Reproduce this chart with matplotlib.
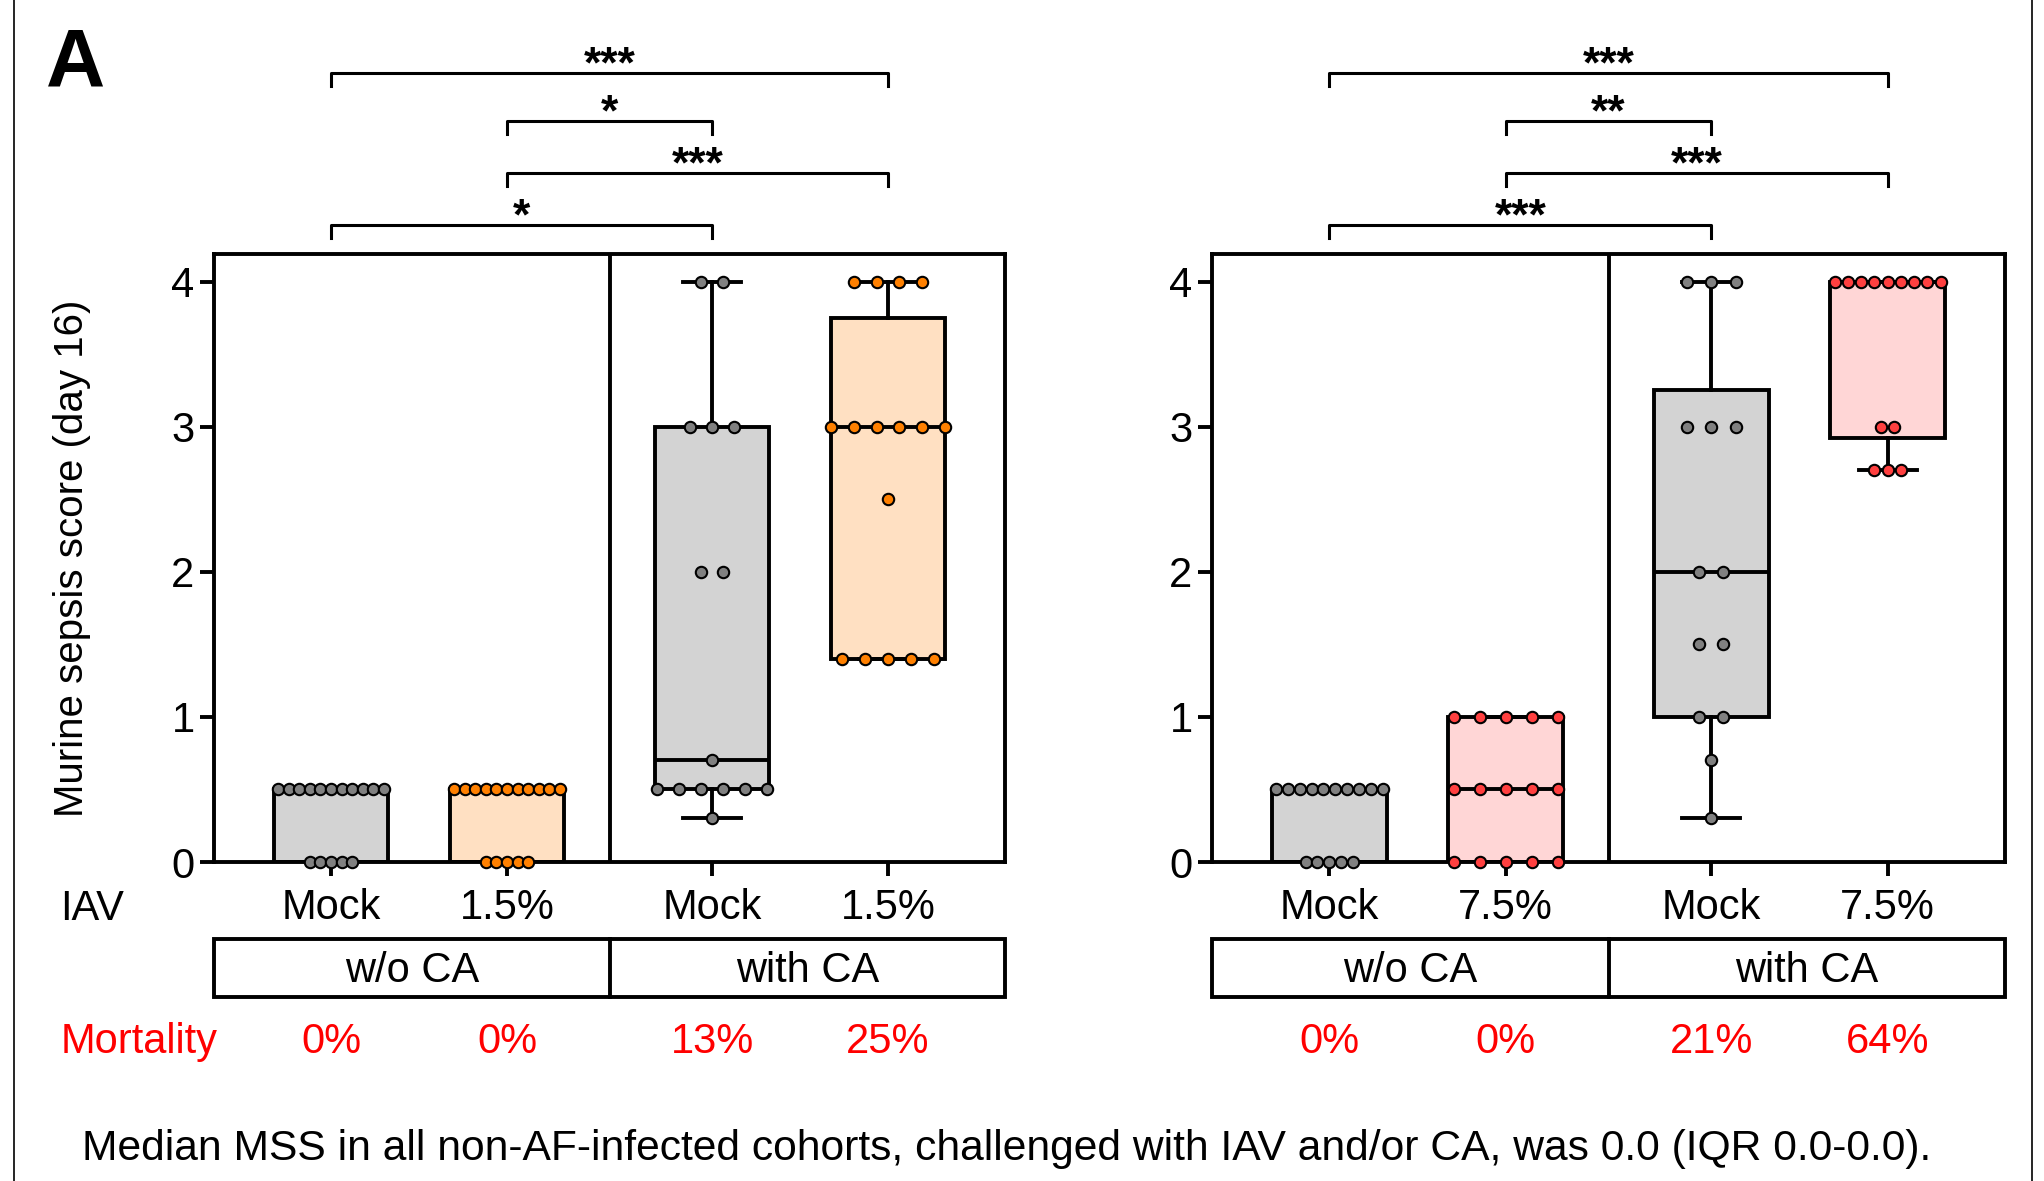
import matplotlib
matplotlib.use("Agg")
import matplotlib.pyplot as plt
import matplotlib.transforms as mtransforms
from matplotlib.lines import Line2D
from matplotlib.patches import Rectangle
import numpy as np

plt.rcParams['font.family'] = ['Liberation Sans', 'DejaVu Sans']

# ---- data ----
left_labels = ['Mock', '1.5%', 'Mock', '1.5%']
right_labels = ['Mock', '7.5%', 'Mock', '7.5%']
ca_groups = ['w/o CA', 'with CA']
left_mortality = ['0%', '0%', '13%', '25%']
right_mortality = ['0%', '0%', '21%', '64%']

# sepsis scores (day 16), one list per cohort
left_mock_noca = [0.5, 0.5, 0.5, 0.5, 0.5, 0.5, 0.5, 0.5, 0.5, 0.5, 0.5, 0, 0, 0, 0, 0]
left_iav_noca = [0.5, 0.5, 0.5, 0.5, 0.5, 0.5, 0.5, 0.5, 0.5, 0.5, 0.5, 0, 0, 0, 0, 0]
left_mock_ca = [4, 4, 3, 3, 3, 2, 2, 0.7, 0.5, 0.5, 0.5, 0.5, 0.5, 0.5, 0.3]
left_iav_ca = [4, 4, 4, 4, 3, 3, 3, 3, 3, 3, 2.5, 1.4, 1.4, 1.4, 1.4, 1.4]

right_mock_noca = [0.5, 0.5, 0.5, 0.5, 0.5, 0.5, 0.5, 0.5, 0.5, 0.5, 0, 0, 0, 0, 0]
right_iav_noca = [1, 1, 1, 1, 1, 0.5, 0.5, 0.5, 0.5, 0.5, 0, 0, 0, 0, 0]
right_mock_ca = [4, 4, 4, 3, 3, 3, 2, 2, 1.5, 1.5, 1, 1, 0.7, 0.3]
right_iav_ca = [4, 4, 4, 4, 4, 4, 4, 4, 4, 3, 3, 2.7, 2.7, 2.7]

# significance: (group i, group j, label), top to bottom
left_sig = [(0, 3, '***'), (1, 2, '*'), (1, 3, '***'), (0, 2, '*')]
right_sig = [(0, 3, '***'), (1, 2, '**'), (1, 3, '***'), (0, 2, '***')]

caption = ('Median MSS in all non-AF-infected cohorts, challenged with IAV '
           'and/or CA, was 0.0 (IQR 0.0-0.0).')

# ---- layout ----
W, H, DPI = 2044, 1181, 100
positions = [0, 1, 2.165, 3.165]
divider_x = 1.585
sig_levels = [5.44, 5.108, 4.747, 4.388]

GREY_DOT, GREY_BOX = '#808080', '#D3D3D3'
ORANGE_DOT, ORANGE_BOX = '#FF8000', '#FFE0C2'
RED_DOT, RED_BOX = '#FF4040', '#FFD6D6'
LW = 2.8


def fy(py):
    return 1 - py / H


def draw_panel(ax, scores, labels, mortality, spacings, dot_colors, box_colors, sig):
    stats = []
    for vals in scores:
        q1, med, q3 = np.percentile(vals, [25, 50, 75], method='weibull')
        stats.append(dict(q1=q1, med=med, q3=q3, whislo=min(vals), whishi=max(vals), fliers=[]))
    bp = ax.bxp(stats, positions=positions, widths=0.65, patch_artist=True,
                showfliers=False, manage_ticks=False, capwidths=0.33,
                boxprops=dict(linewidth=LW, edgecolor='black'),
                whiskerprops=dict(linewidth=LW, color='black'),
                capprops=dict(linewidth=LW, color='black'),
                medianprops=dict(linewidth=LW, color='black'))
    for patch, c in zip(bp['boxes'], box_colors):
        patch.set_facecolor(c)

    # dots spread horizontally per value
    for pos, vals, sp, c in zip(positions, scores, spacings, dot_colors):
        uniq, counts = np.unique(vals, return_counts=True)
        for v, n in zip(uniq, counts):
            xs = pos + (np.arange(n) - (n - 1) / 2) * sp
            ax.plot(xs, [v] * n, 'o', ms=8.2, mfc=c, mec='black', mew=1.5,
                    clip_on=False, zorder=5)

    ax.axvline(divider_x, color='black', lw=LW)
    ax.set_xlim(-0.665, 3.83)
    ax.set_ylim(0, 4.19)
    ax.set_yticks([0, 1, 2, 3, 4])
    ax.set_xticks(positions, labels)
    ax.tick_params(width=LW, length=10, direction='out', labelsize=30, pad=4)
    ax.tick_params(axis='x', pad=8.5)
    for s in ax.spines.values():
        s.set_linewidth(LW)

    # significance brackets
    for (i, j, txt), y in zip(sig, sig_levels):
        xi, xj = positions[i], positions[j]
        ax.plot([xi, xi, xj, xj], [y - 0.09, y, y, y - 0.09], color='black',
                lw=2.2, clip_on=False)
        ax.text((xi + xj) / 2, y - 0.03, txt, ha='center', va='baseline',
                fontsize=32, fontweight='bold')

    # mortality row
    tr = mtransforms.blended_transform_factory(ax.transData, fig.transFigure)
    for pos, m in zip(positions, mortality):
        ax.text(pos, fy(1053), m, transform=tr, ha='center', va='baseline',
                fontsize=30, color='#FF0000')

    # CA group box below axes
    bb = ax.get_position()
    y0, y1 = fy(997), fy(938.6)
    fig.add_artist(Rectangle((bb.x0, y0), bb.width, y1 - y0, transform=fig.transFigure,
                             fill=False, lw=LW, edgecolor='black'))
    xdiv = bb.x0 + bb.width * (divider_x - (-0.665)) / (3.83 + 0.665)
    fig.add_artist(Line2D([xdiv, xdiv], [y0, y1], transform=fig.transFigure,
                          color='black', lw=LW))
    fig.text((bb.x0 + xdiv) / 2, fy(982), ca_groups[0], ha='center', va='baseline', fontsize=30)
    fig.text((xdiv + bb.x1) / 2, fy(982), ca_groups[1], ha='center', va='baseline', fontsize=30)


fig = plt.figure(figsize=(W / DPI, H / DPI), dpi=DPI)
axL = fig.add_axes([214 / W, fy(862), (1005 - 214) / W, (862 - 254) / H])
axR = fig.add_axes([1212 / W, fy(862), (2005 - 1212) / W, (862 - 254) / H])

draw_panel(axL, [left_mock_noca, left_iav_noca, left_mock_ca, left_iav_ca],
           left_labels, left_mortality, [0.06, 0.06, 0.125, 0.13],
           [GREY_DOT, ORANGE_DOT, GREY_DOT, ORANGE_DOT],
           [GREY_BOX, ORANGE_BOX, GREY_BOX, ORANGE_BOX], left_sig)
draw_panel(axR, [right_mock_noca, right_iav_noca, right_mock_ca, right_iav_ca],
           right_labels, right_mortality, [0.067, 0.148, 0.138, 0.075],
           [GREY_DOT, RED_DOT, GREY_DOT, RED_DOT],
           [GREY_BOX, RED_BOX, GREY_BOX, RED_BOX], right_sig)

fig.text(72 / W, fy(558), 'Murine sepsis score (day 16)', rotation=90,
         ha='center', va='center', fontsize=29)
fig.text(60 / W, fy(920), 'IAV', ha='left', va='baseline', fontsize=30)
fig.text(61 / W, fy(1053), 'Mortality', ha='left', va='baseline', fontsize=30, color='#FF0000')
fig.text(46 / W, fy(85), 'A', ha='left', va='baseline', fontsize=59, fontweight='bold')
fig.text(1007 / W, fy(1160), caption, ha='center', va='baseline', fontsize=30.7)

# panel border lines
for px in (14, 2032):
    fig.add_artist(Line2D([px / W, px / W], [0, 1], transform=fig.transFigure,
                          color='black', lw=1.2))

fig.savefig('out.png', dpi=DPI)
